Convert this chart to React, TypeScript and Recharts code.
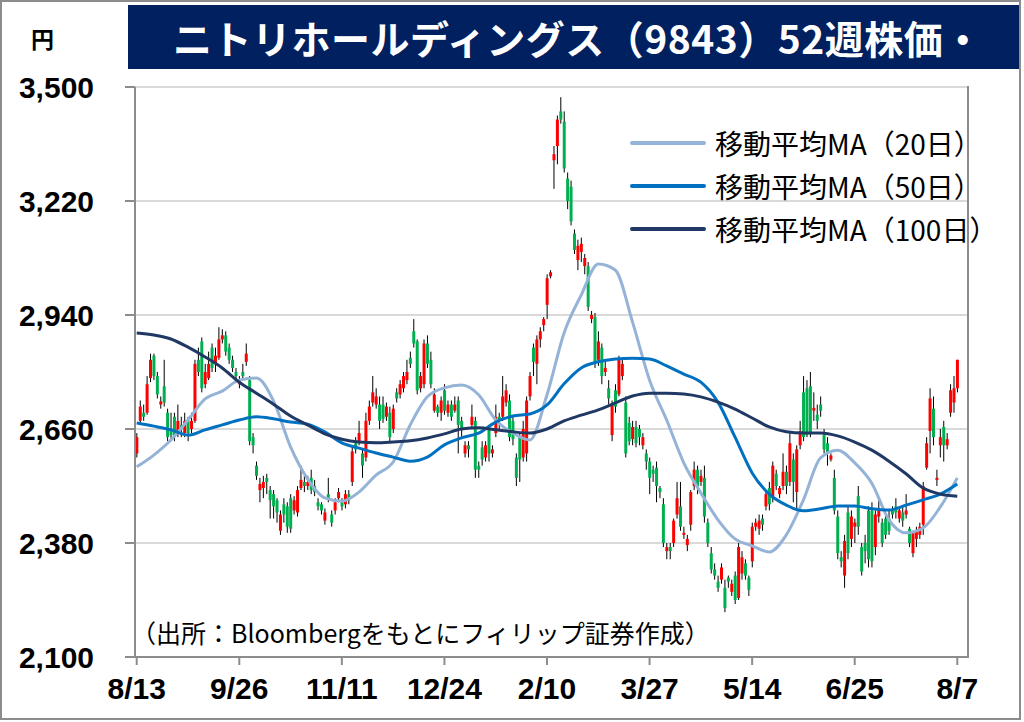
// Nitori Holdings (9843) 52-week candlestick chart with 20/50/100-day moving averages

import { ComposedChart, Bar, Line, XAxis, YAxis, CartesianGrid } from 'recharts'

// axis labels
const dateLabels = ['8/13', '9/26', '11/11', '12/24', '2/10', '3/27', '5/14', '6/25', '8/7']
const yTicks = [2100, 2380, 2660, 2940, 3220, 3500]

// daily prices (yen), 241 trading days
const opens = [
  2600, 2680, 2700, 2700, 2785, 2840, 2790, 2720, 2765, 2700,
  2660, 2690, 2650, 2670, 2650, 2680, 2660, 2680, 2830, 2875,
  2770, 2785, 2860, 2820, 2835, 2880, 2890, 2860, 2830, 2800,
  2770, 2800, 2825, 2780, 2640, 2570, 2510, 2515, 2540, 2510,
  2500, 2485, 2410, 2475, 2470, 2490, 2460, 2455, 2515, 2530,
  2520, 2540, 2520, 2480, 2475, 2435, 2500, 2450, 2460, 2490,
  2480, 2475, 2500, 2530, 2625, 2630, 2600, 2590, 2680, 2725,
  2720, 2720, 2720, 2690, 2700, 2660, 2750, 2745, 2760, 2780,
  2835, 2900, 2875, 2760, 2770, 2870, 2830, 2705, 2715, 2700,
  2755, 2700, 2720, 2705, 2730, 2680, 2600, 2620, 2670, 2680,
  2570, 2615, 2590, 2660, 2600, 2650, 2690, 2690, 2725, 2730,
  2680, 2590, 2640, 2590, 2600, 2740, 2860, 2820, 2880, 2915,
  2965, 3035, 3320, 3355, 3440, 3415, 3275, 3255, 3140, 3075,
  3095, 3060, 3060, 2930, 2935, 2830, 2860, 2800, 2760, 2645,
  2755, 2745, 2790, 2725, 2675, 2635, 2665, 2660, 2620, 2600,
  2580, 2560, 2565, 2515, 2475, 2360, 2370, 2380, 2450, 2470,
  2400, 2375, 2425, 2520, 2560, 2530, 2540, 2430, 2355, 2315,
  2285, 2290, 2270, 2295, 2260, 2300, 2245, 2305, 2330, 2295,
  2335, 2420, 2415, 2440, 2470, 2515, 2490, 2550, 2500, 2520,
  2555, 2530, 2585, 2505, 2620, 2750, 2760, 2765, 2705, 2695,
  2720, 2645, 2625, 2585, 2540, 2445, 2345, 2300, 2455, 2390,
  2420, 2495, 2370, 2380, 2460, 2460, 2370, 2445, 2430, 2440,
  2440, 2460, 2470, 2440, 2455, 2450, 2415, 2355, 2390, 2400,
  2425, 2565, 2655, 2710, 2535, 2620, 2665, 2620, 2700, 2725,
  2760,
]

const closes = [
  2640, 2715, 2690, 2770, 2830, 2790, 2745, 2728, 2725, 2640,
  2645, 2640, 2680, 2660, 2680, 2650, 2680, 2820, 2800, 2760,
  2800, 2820, 2810, 2840, 2880, 2890, 2850, 2830, 2810, 2790,
  2780, 2790, 2845, 2630, 2620, 2545, 2525, 2530, 2530, 2485,
  2470, 2455, 2450, 2450, 2420, 2415, 2485, 2510, 2535, 2520,
  2530, 2510, 2505, 2470, 2460, 2455, 2490, 2430, 2480, 2505,
  2470, 2500, 2485, 2605, 2610, 2650, 2570, 2680, 2715, 2750,
  2740, 2680, 2685, 2715, 2640, 2710, 2735, 2770, 2790, 2800,
  2820, 2870, 2755, 2790, 2870, 2820, 2770, 2745, 2700, 2730,
  2705, 2720, 2690, 2720, 2670, 2660, 2620, 2610, 2690, 2560,
  2560, 2585, 2620, 2600, 2610, 2690, 2680, 2740, 2755, 2640,
  2635, 2540, 2585, 2660, 2730, 2790, 2825, 2880, 2900, 2930,
  3030, 3045, 3335, 3420, 3420, 3300, 3220, 3170, 3100, 3110,
  3115, 3080, 2960, 2940, 2825, 2875, 2790, 2810, 2735, 2720,
  2715, 2830, 2820, 2600, 2630, 2665, 2625, 2640, 2640, 2580,
  2540, 2550, 2520, 2505, 2380, 2370, 2360, 2435, 2490, 2420,
  2405, 2390, 2505, 2560, 2520, 2545, 2445, 2380, 2315, 2300,
  2270, 2320, 2220, 2285, 2280, 2240, 2370, 2345, 2300, 2265,
  2420, 2430, 2435, 2425, 2500, 2475, 2570, 2520, 2515, 2555,
  2520, 2625, 2530, 2610, 2655, 2640, 2645, 2650, 2712, 2680,
  2705, 2610, 2600, 2595, 2460, 2355, 2335, 2385, 2355, 2445,
  2430, 2420, 2310, 2360, 2340, 2335, 2450, 2460, 2380, 2400,
  2410, 2450, 2455, 2460, 2435, 2460, 2380, 2405, 2410, 2420,
  2520, 2625, 2735, 2640, 2540, 2640, 2620, 2635, 2755, 2760,
  2830,
]

const highs = [
  2650, 2730, 2720, 2790, 2845, 2845, 2800, 2740, 2830, 2710,
  2700, 2700, 2720, 2690, 2700, 2690, 2700, 2830, 2860, 2885,
  2820, 2850, 2870, 2860, 2910, 2905, 2900, 2870, 2840, 2810,
  2790, 2820, 2870, 2790, 2650, 2580, 2540, 2545, 2550, 2520,
  2510, 2490, 2460, 2490, 2480, 2500, 2495, 2520, 2570, 2545,
  2545, 2560, 2535, 2490, 2480, 2465, 2540, 2460, 2490, 2515,
  2490, 2510, 2510, 2615, 2640, 2680, 2610, 2700, 2730, 2790,
  2760, 2740, 2740, 2725, 2715, 2720, 2760, 2780, 2800, 2830,
  2850, 2930, 2880, 2800, 2880, 2890, 2850, 2760, 2720, 2740,
  2770, 2730, 2730, 2740, 2740, 2690, 2630, 2630, 2720, 2690,
  2580, 2630, 2630, 2670, 2620, 2720, 2700, 2790, 2770, 2745,
  2690, 2600, 2650, 2680, 2740, 2800, 2870, 2890, 2910, 2935,
  3040, 3050, 3355, 3430, 3475, 3440, 3290, 3270, 3150, 3125,
  3130, 3090, 3070, 2950, 2945, 2900, 2870, 2830, 2780, 2730,
  2770, 2840, 2830, 2740, 2690, 2680, 2680, 2670, 2650, 2610,
  2590, 2570, 2580, 2520, 2490, 2380, 2380, 2440, 2530, 2530,
  2420, 2400, 2510, 2580, 2570, 2560, 2570, 2440, 2370, 2330,
  2300, 2330, 2290, 2300, 2290, 2310, 2380, 2360, 2340, 2300,
  2430, 2440, 2450, 2450, 2510, 2530, 2580, 2560, 2520, 2600,
  2570, 2650, 2600, 2620, 2680, 2790, 2780, 2800, 2750, 2720,
  2740, 2660, 2640, 2600, 2560, 2460, 2360, 2400, 2470, 2460,
  2440, 2520, 2380, 2400, 2470, 2480, 2460, 2490, 2440, 2450,
  2460, 2470, 2490, 2470, 2470, 2500, 2420, 2410, 2420, 2430,
  2530, 2640, 2760, 2740, 2560, 2660, 2680, 2650, 2770, 2790,
  2830,
]

const lows = [
  2590, 2670, 2680, 2695, 2775, 2780, 2735, 2710, 2715, 2630,
  2630, 2630, 2640, 2640, 2640, 2630, 2650, 2675, 2790, 2750,
  2760, 2780, 2800, 2800, 2830, 2870, 2840, 2820, 2800, 2775,
  2760, 2780, 2815, 2620, 2600, 2535, 2480, 2490, 2500, 2440,
  2440, 2430, 2400, 2430, 2405, 2405, 2450, 2445, 2510, 2505,
  2510, 2500, 2495, 2460, 2450, 2425, 2480, 2420, 2450, 2480,
  2460, 2465, 2475, 2520, 2600, 2620, 2540, 2580, 2670, 2715,
  2710, 2660, 2675, 2680, 2630, 2650, 2725, 2735, 2750, 2770,
  2810, 2860, 2745, 2750, 2760, 2810, 2760, 2700, 2690, 2680,
  2695, 2690, 2680, 2700, 2600, 2640, 2590, 2590, 2660, 2540,
  2540, 2570, 2580, 2580, 2590, 2640, 2660, 2680, 2715, 2630,
  2620, 2520, 2530, 2580, 2580, 2730, 2790, 2770, 2860, 2900,
  2930, 3030, 3250, 3310, 3410, 3290, 3200, 3160, 3090, 3050,
  3070, 3040, 2950, 2920, 2810, 2815, 2770, 2790, 2720, 2630,
  2700, 2740, 2780, 2590, 2620, 2620, 2615, 2620, 2610, 2560,
  2500, 2530, 2480, 2490, 2370, 2340, 2340, 2370, 2440, 2410,
  2390, 2360, 2410, 2510, 2500, 2520, 2430, 2370, 2305, 2290,
  2260, 2280, 2210, 2270, 2250, 2230, 2240, 2290, 2290, 2250,
  2320, 2410, 2400, 2410, 2460, 2460, 2480, 2510, 2490, 2510,
  2500, 2520, 2480, 2460, 2610, 2630, 2640, 2640, 2680, 2660,
  2690, 2600, 2570, 2580, 2450, 2340, 2320, 2270, 2340, 2370,
  2380, 2400, 2300, 2330, 2320, 2320, 2350, 2430, 2370, 2390,
  2400, 2440, 2440, 2430, 2420, 2440, 2370, 2345, 2370, 2390,
  2400, 2560, 2600, 2620, 2520, 2590, 2580, 2610, 2690, 2700,
  2750,
]

// moving averages, read every 5 trading days
const ma20 = [
  2567, 2596, 2633, 2682, 2734, 2753, 2780, 2785, 2729, 2616,
  2537, 2491, 2483, 2505, 2547, 2579, 2670, 2739, 2761, 2768,
  2744, 2682, 2650, 2633, 2744, 2896, 2989, 3065, 3050, 2923,
  2780, 2682, 2577, 2503, 2437, 2390, 2373, 2358, 2400, 2486,
  2589, 2608, 2577, 2527, 2437, 2405, 2417, 2468, 2540,
]
const ma50 = [
  2675, 2667, 2658, 2645, 2658, 2670, 2682, 2690, 2685, 2677,
  2672, 2653, 2626, 2613, 2601, 2591, 2581, 2591, 2621, 2638,
  2650, 2677, 2692, 2697, 2719, 2771, 2810, 2825, 2832, 2834,
  2832, 2815, 2795, 2775, 2726, 2640, 2552, 2500, 2473, 2459,
  2464, 2471, 2471, 2464, 2461, 2473, 2486, 2500, 2525,
]
const ma100 = [
  2896, 2891, 2881, 2861, 2837, 2810, 2775, 2748, 2721, 2692,
  2670, 2648, 2635, 2628, 2626, 2628, 2631, 2638, 2648, 2660,
  2663, 2658, 2653, 2650, 2660, 2680, 2694, 2707, 2724, 2741,
  2748, 2748, 2746, 2739, 2726, 2709, 2687, 2665, 2653, 2650,
  2650, 2643, 2628, 2608, 2581, 2550, 2515, 2500, 2495,
]

const UP = '#FF0000'
const DOWN = '#00B050'
const MA20_COLOR = '#95B3D7'
const MA50_COLOR = '#0070C0'
const MA100_COLOR = '#1F3864'

const chartData = opens.map((o, i) => ({
  i,
  o,
  c: closes[i],
  h: highs[i],
  l: lows[i],
  ma20: i % 5 === 0 ? ma20[i / 5] : null,
  ma50: i % 5 === 0 ? ma50[i / 5] : null,
  ma100: i % 5 === 0 ? ma100[i / 5] : null,
}))

// bar spans low..high, body is placed by ratio inside it
const Candle = (props: any) => {
  const { x, y, width, height, payload } = props
  if (!payload || height == null) return null
  const { o, c, h, l } = payload
  const ratio = height / (h - l)
  const cx = x + width / 2
  const top = y + (h - Math.max(o, c)) * ratio
  const bot = y + (h - Math.min(o, c)) * ratio
  const bw = 3
  return (
    <g>
      <line x1={cx} x2={cx} y1={y} y2={y + height} stroke="#000" strokeWidth={1} />
      <rect
        x={cx - bw / 2}
        y={top}
        width={bw}
        height={Math.max(bot - top, 1.5)}
        fill={c >= o ? UP : DOWN}
      />
    </g>
  )
}

const axisFont = {
  fill: '#000',
  fontSize: 30,
  fontWeight: 700,
  fontFamily: '"Liberation Sans", Arial, sans-serif',
}

const legendItems = [
  { label: '移動平均MA（20日）', color: MA20_COLOR },
  { label: '移動平均MA（50日）', color: MA50_COLOR },
  { label: '移動平均MA（100日）', color: MA100_COLOR },
]

export default function App() {
  return (
    <div
      style={{
        position: 'absolute',
        left: 0,
        top: 0,
        width: 1024,
        height: 722,
        background: '#fff',
        overflow: 'hidden',
        fontFamily: '"Noto Sans CJK JP", sans-serif',
      }}
    >
      <ComposedChart
        width={1024}
        height={722}
        data={chartData}
        margin={{ top: 87, right: 56, bottom: 0, left: 0 }}
      >
        <CartesianGrid vertical={false} stroke="#D9D9D9" strokeWidth={2} />
        <XAxis
          dataKey="i"
          type="category"
          interval={29}
          height={65}
          padding={{ left: 0, right: 9 }}
          tickSize={8}
          tickMargin={13}
          tickFormatter={(v: number) => dateLabels[v / 30] ?? ''}
          tick={axisFont}
          axisLine={{ stroke: '#8C8C8C', strokeWidth: 2 }}
          tickLine={{ stroke: '#8C8C8C', strokeWidth: 2 }}
        />
        <YAxis
          type="number"
          domain={[2100, 3500]}
          ticks={yTicks}
          interval={0}
          width={135}
          tickSize={10}
          tickMargin={31}
          tickFormatter={(v: number) => v.toLocaleString('en-US')}
          tick={axisFont}
          axisLine={{ stroke: '#8C8C8C', strokeWidth: 2 }}
          tickLine={{ stroke: '#8C8C8C', strokeWidth: 2 }}
        />
        <Bar
          dataKey={(d: any) => [d.l, d.h]}
          shape={Candle}
          isAnimationActive={false}
        />
        <Line
          dataKey="ma20"
          type="monotone"
          stroke={MA20_COLOR}
          strokeWidth={3}
          dot={false}
          connectNulls
          isAnimationActive={false}
        />
        <Line
          dataKey="ma50"
          type="monotone"
          stroke={MA50_COLOR}
          strokeWidth={3}
          dot={false}
          connectNulls
          isAnimationActive={false}
        />
        <Line
          dataKey="ma100"
          type="monotone"
          stroke={MA100_COLOR}
          strokeWidth={3}
          dot={false}
          connectNulls
          isAnimationActive={false}
        />
      </ComposedChart>

      {/* right edge of the plot area */}
      <div
        style={{
          position: 'absolute',
          left: 967,
          top: 86,
          width: 2,
          height: 572,
          background: '#8C8C8C',
        }}
      />

      {/* title bar */}
      <div
        style={{
          position: 'absolute',
          left: 128,
          top: 5,
          width: 893,
          height: 64,
          background: '#002060',
          overflow: 'hidden',
        }}
      >
        <div
          style={{
            position: 'absolute',
            left: 45,
            top: 0,
            height: 64,
            lineHeight: '64px',
            color: '#fff',
            fontSize: 39,
            fontWeight: 700,
            whiteSpace: 'nowrap',
            letterSpacing: 0.5,
          }}
        >
          ニトリホールディングス（9843）52週株価・
        </div>
      </div>

      {/* unit */}
      <div
        style={{
          position: 'absolute',
          left: 31,
          top: 22,
          fontSize: 23,
          fontWeight: 700,
          lineHeight: '32px',
        }}
      >
        円
      </div>

      {/* legend */}
      {legendItems.map((item, k) => (
        <div
          key={item.label}
          style={{
            position: 'absolute',
            left: 630,
            top: 125 + k * 43,
            height: 36,
            display: 'flex',
            alignItems: 'center',
            whiteSpace: 'nowrap',
          }}
        >
          <div style={{ width: 76, height: 4, background: item.color, borderRadius: 2 }} />
          <span style={{ marginLeft: 9, fontSize: 28, color: '#000' }}>{item.label}</span>
        </div>
      ))}

      {/* source note */}
      <div
        style={{
          position: 'absolute',
          left: 131,
          top: 615,
          fontSize: 25,
          lineHeight: '34px',
          color: '#000',
          whiteSpace: 'nowrap',
        }}
      >
        （出所：Bloombergをもとにフィリップ証券作成）
      </div>

      {/* outer frame */}
      <div
        style={{
          position: 'absolute',
          left: 0,
          top: 0,
          width: 1021,
          height: 720,
          boxSizing: 'border-box',
          border: '2px solid #8C8C8C',
          pointerEvents: 'none',
        }}
      />
    </div>
  )
}
